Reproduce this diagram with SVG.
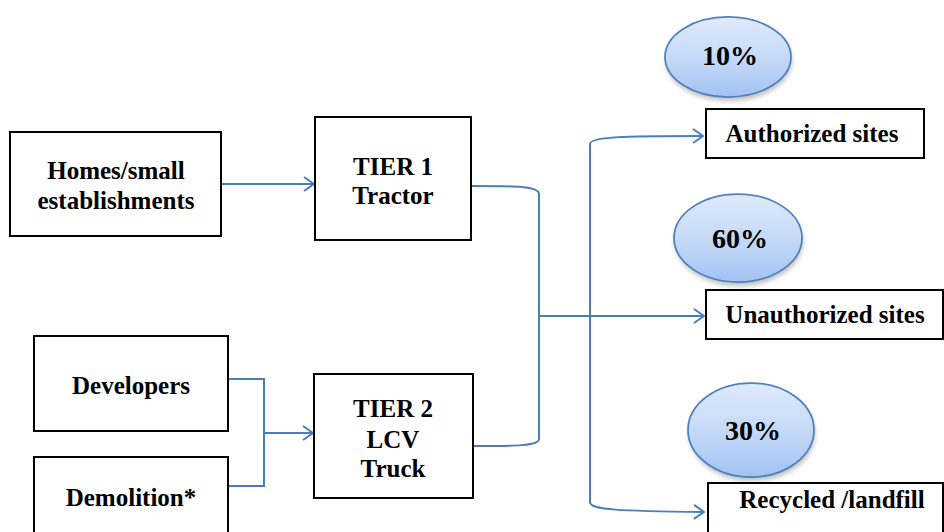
<svg xmlns="http://www.w3.org/2000/svg" width="944" height="532" viewBox="0 0 944 532">
<defs>
<style>
.box{fill:#fff;stroke:#000;stroke-width:2}
.t{font-family:"Liberation Serif","Times New Roman",serif;font-weight:bold;font-size:25px;fill:#000;text-anchor:middle}
.p{font-size:28px}
.c{fill:none;stroke:#4a7ebb;stroke-width:2}
.ell{fill:url(#g);stroke:#4f81bd;stroke-width:1.75}
.sh{fill:#000;opacity:0.25;filter:url(#blur)}
</style>
<linearGradient id="g" x1="0" y1="0" x2="0" y2="1">
<stop offset="0" stop-color="#dfeafb"/>
<stop offset="0.5" stop-color="#c6daf8"/>
<stop offset="1" stop-color="#a3c2f3"/>
</linearGradient>
<filter id="blur" x="-20%" y="-20%" width="140%" height="140%"><feGaussianBlur stdDeviation="2.5"/></filter>
<marker id="arr" viewBox="0 0 12 16" refX="11" refY="8" markerWidth="12" markerHeight="16" markerUnits="userSpaceOnUse" orient="auto">
<path d="M1,1 L11,8 L1,15" fill="none" stroke="#4a7ebb" stroke-width="2"/>
</marker>
</defs>
<rect width="944" height="532" fill="#fff"/>
<g id="connectors">
<path class="c" d="M221,184 H314" marker-end="url(#arr)"/>
<path class="c" d="M228,379 H264 V486 H228"/>
<path class="c" d="M264,433 H313" marker-end="url(#arr)"/>
<path class="c" d="M471,186 C515,186 539,186 539,194 V439 C539,446 515,446 473,446"/>
<path class="c" d="M539,316 H704" marker-end="url(#arr)"/>
<path class="c" d="M590,502 V144 C590,137 620,136 703,136" marker-end="url(#arr)"/>
<path class="c" d="M590,502 C590,510 620,511 704,512" marker-end="url(#arr)"/>
</g>
<g id="homes"><rect class="box" x="10" y="132" width="211" height="104"/><text class="t" x="116" y="179">Homes/small</text><text class="t" x="116" y="209">establishments</text></g>
<g id="tier1"><rect class="box" x="315" y="117" width="156" height="123"/><text class="t" x="393" y="175">TIER 1</text><text class="t" x="393" y="204">Tractor</text></g>
<g id="developers"><rect class="box" x="34" y="336" width="194" height="95"/><text class="t" x="131" y="394">Developers</text></g>
<g id="demolition"><rect class="box" x="34" y="457" width="194" height="90"/><text class="t" x="131" y="506">Demolition*</text></g>
<g id="tier2"><rect class="box" x="314" y="374" width="159" height="124"/><text class="t" x="393" y="417">TIER 2</text><text class="t" x="393" y="448">LCV</text><text class="t" x="393" y="477">Truck</text></g>
<g id="pct10"><ellipse class="sh" cx="729" cy="61" rx="63" ry="40"/><ellipse class="ell" cx="728" cy="57" rx="63" ry="40"/><text class="t p" x="730" y="65">10%</text></g>
<g id="authorized"><rect class="box" x="706" y="109" width="218" height="49"/><text class="t" x="812" y="142">Authorized sites</text></g>
<g id="pct60"><ellipse class="sh" cx="739" cy="242" rx="64" ry="44"/><ellipse class="ell" cx="738" cy="238" rx="64" ry="44"/><text class="t p" x="740" y="248">60%</text></g>
<g id="unauthorized"><rect class="box" x="706" y="290" width="237" height="49"/><text class="t" x="825" y="323">Unauthorized sites</text></g>
<g id="pct30"><ellipse class="sh" cx="752" cy="434" rx="63" ry="47"/><ellipse class="ell" cx="751" cy="430" rx="63" ry="47"/><text class="t p" x="753" y="440">30%</text></g>
<g id="recycled"><rect class="box" x="708" y="483" width="235" height="60"/><text class="t" x="832" y="508">Recycled /landfill</text></g>
</svg>
